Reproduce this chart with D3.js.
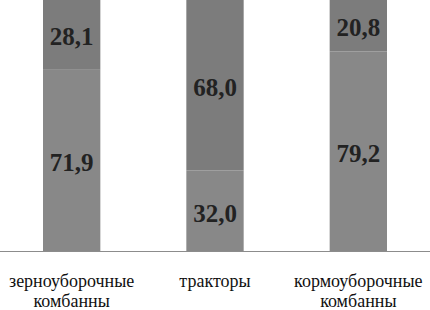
<!DOCTYPE html>
<html>
<head>
<meta charset="utf-8">
<script src="https://cdn.jsdelivr.net/npm/d3@7"></script>
<style>
  body { margin: 0; background: #fff; }
  #chart { position: relative; width: 430px; height: 310px; overflow: hidden; }
  #chart svg { position: absolute; left: 0; top: 0; }
  .lbl { position: absolute; white-space: nowrap; text-align: center; transform: translateX(-50%); }
  .val { font-weight: bold; font-size: 25px; line-height: 25px; color: #222; }
  .cat { font-size: 18px; line-height: 19.5px; color: #111; }
</style>
</head>
<body>
<div id="chart"></div>
<script>
const categories = [['зерноуборочные', 'комбанны'], ['тракторы'], ['кормоуборочные', 'комбанны']]
const lowerValues = [71.9, 32.0, 79.2]
const upperValues = [28.1, 68.0, 20.8]

const width = 430
const height = 310
const serif = "'Liberation Serif', 'Times New Roman', serif"
const fmt = v => d3.format('.1f')(v).replace('.', ',')

const x = d3
    .scaleBand()
    .domain(d3.range(categories.length))
    .range([0, width])
    .paddingInner(0.6)
    .paddingOuter(0.3)

const y = d3
    .scaleLinear()
    .domain([0, 100])
    .range([251, -1])

const chart = d3.select('#chart')

const svg = chart
    .append('svg')
    .attr('width', width)
    .attr('height', height)

const stacks = categories.map((c, i) => [
    {i, y0: 0, y1: lowerValues[i], v: lowerValues[i], fill: '#888888'},
    {i, y0: lowerValues[i], y1: lowerValues[i] + upperValues[i], v: upperValues[i], fill: '#7c7c7c'}
])
const segs = stacks.flat()

svg.selectAll('rect.seg')
    .data(segs)
    .enter()
    .append('rect')
    .attr('class', 'seg')
    .attr('x', d => x(d.i))
    .attr('width', x.bandwidth())
    .attr('y', d => y(d.y1))
    .attr('height', d => y(d.y0) - y(d.y1))
    .attr('fill', d => d.fill)

// axis line
svg.append('line')
    .attr('x1', 0)
    .attr('x2', width)
    .attr('y1', y(0) + 0.5)
    .attr('y2', y(0) + 0.5)
    .attr('stroke', '#8c8c8c')
    .attr('stroke-width', 1)

// baseline of a 25px line box sits ~21px below its top
chart.selectAll('div.val')
    .data(segs)
    .enter()
    .append('div')
    .attr('class', 'lbl val')
    .style('font-family', serif, 'important')
    .style('left', d => (x(d.i) + x.bandwidth() / 2) + 'px')
    .style('top', d => ((y(d.y0) + y(d.y1)) / 2 + 11 - 21) + 'px')
    .text(d => fmt(d.v))

chart.selectAll('div.cat')
    .data(categories)
    .enter()
    .append('div')
    .attr('class', 'lbl cat')
    .style('font-family', serif, 'important')
    .style('left', (d, i) => (x(i) + x.bandwidth() / 2) + 'px')
    .style('top', '272px')
    .html(d => d.join('<br>'))
</script>
</body>
</html>
